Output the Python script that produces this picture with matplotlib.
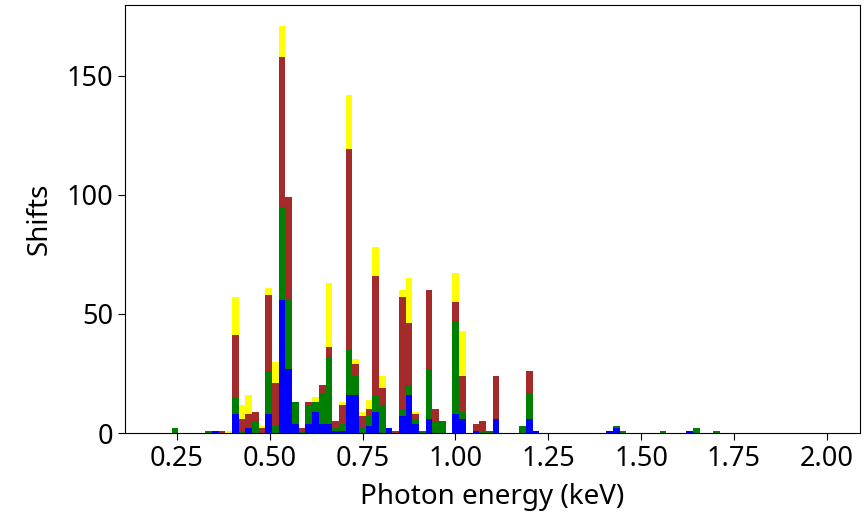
import matplotlib
matplotlib.use("Agg")
import matplotlib.pyplot as plt
import numpy as np

plt.rcParams['font.family'] = ['Noto Sans', 'DejaVu Sans']

# bin centres (keV) of non-empty bins; 100 bins over 0.2-2.0 keV
energy = [0.245, 0.335, 0.353, 0.371, 0.389, 0.407, 0.425, 0.443, 0.461, 0.479,
          0.497, 0.515, 0.533, 0.551, 0.569, 0.587, 0.605, 0.623, 0.641, 0.659,
          0.677, 0.695, 0.713, 0.731, 0.749, 0.767, 0.785, 0.803, 0.821, 0.839,
          0.857, 0.875, 0.893, 0.911, 0.929, 0.947, 0.965, 1.001, 1.019, 1.055,
          1.073, 1.091, 1.109, 1.181, 1.199, 1.217, 1.415, 1.433, 1.451, 1.559,
          1.631, 1.649, 1.703]

blue = [0, 0, 1, 0, 0, 8, 0, 2, 0, 0,
        8, 0, 56, 27, 4, 0, 4, 9, 4, 4,
        1, 1, 16, 16, 0, 3, 9, 0, 2, 0,
        7, 16, 4, 0, 6, 0, 0, 8, 6, 1,
        0, 0, 6, 0, 6, 1, 1, 2, 0, 0,
        1, 0, 0]
green = [2, 1, 0, 0, 0, 7, 1, 0, 5, 0,
         18, 3, 39, 29, 9, 1, 8, 4, 13, 28,
         1, 3, 19, 8, 2, 4, 7, 12, 0, 0,
         3, 4, 2, 1, 21, 5, 5, 39, 3, 0,
         1, 1, 0, 3, 11, 0, 0, 1, 1, 1,
         0, 2, 1]
brown = [0, 0, 0, 1, 0, 26, 5, 6, 4, 2,
         32, 18, 63, 43, 0, 1, 1, 0, 3, 4,
         3, 8, 84, 5, 5, 3, 50, 7, 0, 1,
         47, 26, 2, 0, 33, 5, 0, 8, 15, 3,
         4, 0, 18, 0, 9, 0, 0, 0, 0, 0,
         0, 0, 0]
yellow = [0, 0, 0, 0, 1, 16, 6, 8, 0, 1,
          3, 9, 13, 0, 0, 0, 0, 2, 0, 27,
          0, 1, 23, 2, 2, 4, 12, 5, 0, 0,
          3, 19, 1, 0, 0, 0, 0, 12, 19, 0,
          0, 0, 0, 0, 0, 0, 0, 0, 0, 0,
          0, 0, 0]

series_colors = ['blue', 'green', 'brown', 'yellow']

fig = plt.figure(figsize=(8.68, 5.15), dpi=100)
ax = fig.add_axes([0.144, 0.159, 0.847, 0.831])

ax.hist([energy] * 4, bins=100, range=(0.2, 2.0),
        weights=[blue, green, brown, yellow], stacked=True,
        color=series_colors, histtype='bar', rwidth=1.0)

ax.set_xticks([0.25, 0.5, 0.75, 1.0, 1.25, 1.5, 1.75, 2.0])
ax.set_yticks([0, 50, 100, 150])
ax.tick_params(labelsize=19.5, length=5)
ax.set_xlabel('Photon energy (keV)', fontsize=20, labelpad=7)
ax.set_ylabel('Shifts', fontsize=20, labelpad=9)

fig.savefig('out.png', dpi=100)
